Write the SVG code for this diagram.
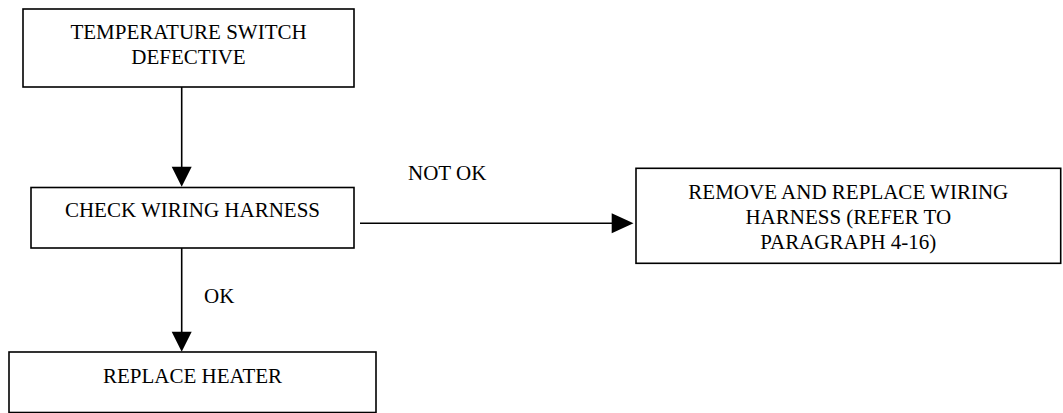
<svg xmlns="http://www.w3.org/2000/svg" width="1063" height="413" viewBox="0 0 1063 413">
<style>
.box{fill:#fff;stroke:#000;stroke-width:1.6}
.t{font-family:"Liberation Serif","Times New Roman",serif;font-size:21px;fill:#000;text-anchor:middle}
.lbl{font-family:"Liberation Serif","Times New Roman",serif;font-size:21px;fill:#000}
.ln{stroke:#000;stroke-width:1.6;fill:none}
.ah{fill:#000}
</style>
<rect width="1063" height="413" fill="#fff"/>
<g id="connectors">
<line class="ln" x1="181.7" y1="87" x2="181.7" y2="168"/>
<polygon class="ah" points="171.7,166.7 191.7,166.7 181.7,186.7"/>
<line class="ln" x1="181.7" y1="248" x2="181.7" y2="333"/>
<polygon class="ah" points="171.7,331.7 191.7,331.7 181.7,351.7"/>
<line class="ln" x1="360" y1="223.3" x2="613" y2="223.3"/>
<polygon class="ah" points="611.7,213.3 611.7,233.3 633.5,223.3"/>
<text class="lbl" x="204" y="303">OK</text>
<text class="lbl" x="408" y="180">NOT OK</text>
</g>
<g id="n1">
<rect class="box" x="23" y="9" width="331" height="78"/>
<text class="t" x="188.5" y="39">TEMPERATURE SWITCH</text>
<text class="t" x="188.5" y="64">DEFECTIVE</text>
</g>
<g id="n2">
<rect class="box" x="31" y="187.5" width="323" height="60.5"/>
<text class="t" x="192.5" y="217.3">CHECK WIRING HARNESS</text>
</g>
<g id="n3">
<rect class="box" x="636" y="168.3" width="424.7" height="95"/>
<text class="t" x="848.3" y="199.3">REMOVE AND REPLACE WIRING</text>
<text class="t" x="848.3" y="224">HARNESS (REFER TO</text>
<text class="t" x="848.3" y="248.5">PARAGRAPH 4-16)</text>
</g>
<g id="n4">
<rect class="box" x="9" y="352" width="367" height="60.5"/>
<text class="t" x="192.5" y="383">REPLACE HEATER</text>
</g>
</svg>
